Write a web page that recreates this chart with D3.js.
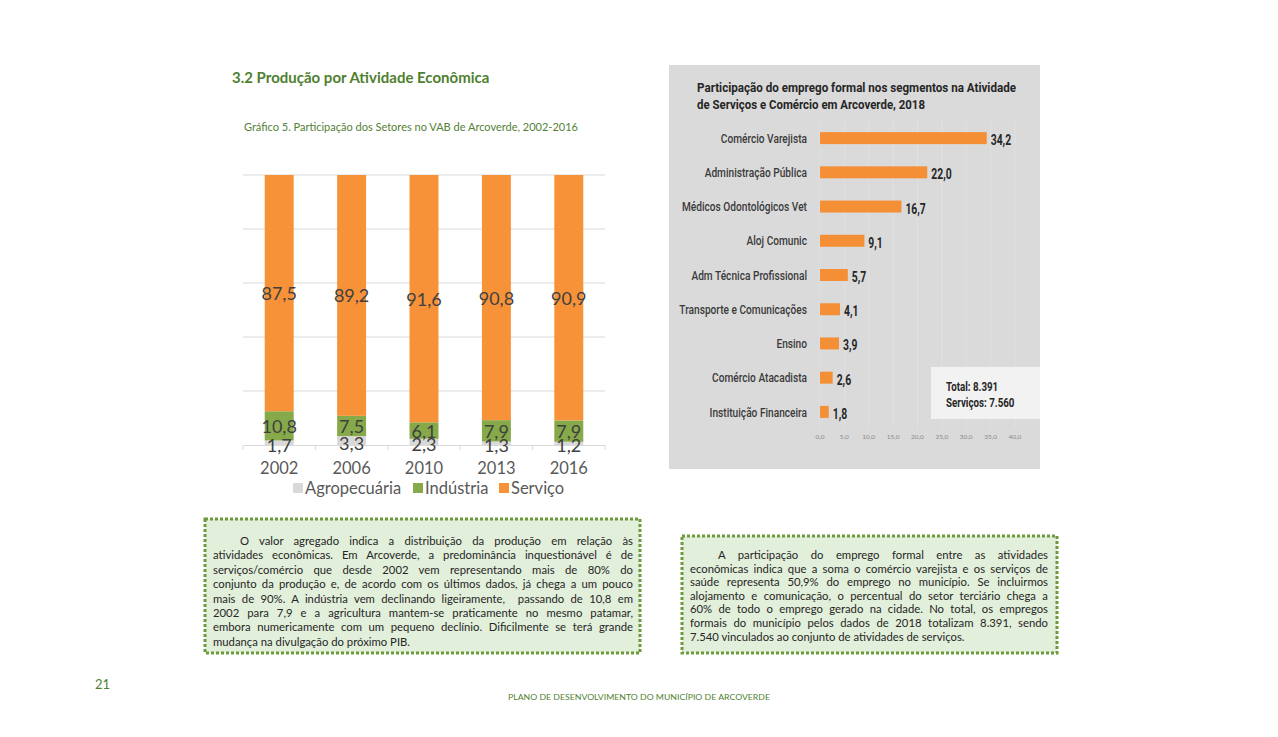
<!DOCTYPE html>
<html><head><meta charset="utf-8">
<script src="https://cdn.jsdelivr.net/npm/d3@7"></script>
<style>
body{margin:0;background:#fff;}
svg{display:block;}
</style></head>
<body>
<svg id="c" width="1278" height="737"></svg>
<script>
// ---- Data ----
const years = ["2002","2006","2010","2013","2016"];
const agro = [1.7,3.3,2.3,1.3,1.2];
const industria = [10.8,7.5,6.1,7.9,7.9];
const servico = [87.5,89.2,91.6,90.8,90.9];
const seriesNames = ["Agropecuária","Indústria","Serviço"];
const seriesColors = ["#d9d9d9","#86a94a","#f79239"];
const yTicks = [0,20,40,60,80,100];

const empCats = ["Comércio Varejista","Administração Pública","Médicos Odontológicos Vet","Aloj Comunic","Adm Técnica Profissional","Transporte e Comunicações","Ensino","Comércio Atacadista","Instituição Financeira"];
const empVals = [34.2,22.0,16.7,9.1,5.7,4.1,3.9,2.6,1.8];
const empTicks = [0,5,10,15,20,25,30,35,40];

const textLeft = [
 "O valor agregado indica a distribuição da produção em relação às",
 "atividades econômicas. Em Arcoverde, a predominância inquestionável é de",
 "serviços/comércio que desde 2002 vem representando mais de 80% do",
 "conjunto da produção e, de acordo com os últimos dados, já chega a um pouco",
 "mais de 90%. A indústria vem declinando ligeiramente,  passando de 10,8 em",
 "2002 para 7,9 e a agricultura mantem-se praticamente no mesmo patamar,",
 "embora numericamente com um pequeno declínio. Dificilmente se terá grande",
 "mudança na divulgação do próximo PIB."
];
const textRight = [
 "A participação do emprego formal entre as atividades",
 "econômicas indica que a soma o comércio varejista e os serviços de",
 "saúde representa 50,9% do emprego no município. Se incluirmos",
 "alojamento e comunicação, o percentual do setor terciário chega a",
 "60% de todo o emprego gerado na cidade. No total, os empregos",
 "formais do município pelos dados de 2018 totalizam 8.391, sendo",
 "7.540 vinculados ao conjunto de atividades de serviços."
];

const svg = d3.select("#c");
const fmt = v => d3.format(".1f")(v).replace(".", ",");
const green = "#538135";

// ---- Headings ----
svg.append("text").attr("x",232).attr("y",83).attr("font-family","Lato").attr("font-weight","bold")
  .attr("font-size",15).attr("fill","#4f7f2f").text("3.2 Produção por Atividade Econômica");
svg.append("text").attr("x",244).attr("y",131).attr("font-family","Lato")
  .attr("font-size",11).attr("fill",green).text("Gráfico 5. Participação dos Setores no VAB de Arcoverde, 2002-2016");

// ---- Left stacked chart ----
const x = d3.scaleBand().domain(years).range([243,605]).paddingInner(0.6).paddingOuter(0.3);
const y = d3.scaleLinear().domain([0,100]).range([445,175]);

const g = svg.append("g");
g.selectAll("line.grid").data(yTicks.slice(1)).join("line")
  .attr("x1",243).attr("x2",605).attr("y1",d=>y(d)).attr("y2",d=>y(d))
  .attr("stroke","#d9d9d9").attr("stroke-width",1);

const rows = years.map((yr,i)=>({year:yr, a:agro[i], b:industria[i], c:servico[i]}));
const stack = d3.stack().keys(["a","b","c"])(rows);
stack.forEach((layer,li)=>{
  g.selectAll(null).data(layer).join("rect")
    .attr("x",d=>x(d.data.year)).attr("width",x.bandwidth())
    .attr("y",d=>y(d[1])).attr("height",d=>y(d[0])-y(d[1]))
    .attr("fill",seriesColors[li]);
});
// axis
const xAxis = g.append("g").attr("transform","translate(0,445)")
  .call(d3.axisBottom(x).tickSize(0).tickPadding(17));
xAxis.select(".domain").attr("stroke","#d9d9d9");
xAxis.selectAll("text").attr("font-family","Lato").attr("font-size",16.5).attr("fill","#595959");
const bounds = d3.range(years.length+1).map(i=>243+i*x.step());
g.selectAll("line.tk").data(bounds).join("line")
  .attr("x1",d=>d).attr("x2",d=>d).attr("y1",445).attr("y2",450).attr("stroke","#d9d9d9");
// labels
stack.forEach((layer,li)=>{
  g.selectAll(null).data(layer).join("text")
    .attr("x",d=>x(d.data.year)+x.bandwidth()/2)
    .attr("y",d=>(y(d[0])+y(d[1]))/2 + (li===0?2:0))
    .attr("text-anchor","middle").attr("dominant-baseline","central")
    .attr("font-family","Lato").attr("font-size",18).attr("fill","#404040")
    .text(d=>fmt(d[1]-d[0]));
});
// legend
const legX = [293,413,499];
seriesNames.forEach((n,i)=>{
  g.append("rect").attr("x",legX[i]).attr("y",483).attr("width",10).attr("height",10).attr("fill",seriesColors[i]);
  g.append("text").attr("x",legX[i]+12).attr("y",488).attr("dominant-baseline","central")
   .attr("font-family","Lato").attr("font-size",16.5).attr("fill","#595959").text(n);
});

// ---- Right bar chart ----
const condense = (sel,k)=>sel.each(function(){
  const w=this.getComputedTextLength();
  d3.select(this).attr("textLength",w*k).attr("lengthAdjust","spacingAndGlyphs");
});
const r = svg.append("g");
r.append("rect").attr("x",669).attr("y",65).attr("width",371).attr("height",404).attr("fill","#dadada");
const xb = d3.scaleLinear().domain([0,40]).range([820,1015]);
const yb = d3.scaleBand().domain(empCats).range([121,429]).paddingInner(0.65).paddingOuter(0.325);

r.selectAll("line.vg").data(empTicks).join("line")
  .attr("x1",d=>xb(d)).attr("x2",d=>xb(d)).attr("y1",120).attr("y2",428)
  .attr("stroke","#e2e2e2").attr("stroke-width",0.8);

const tl = r.append("g").attr("font-family","Roboto").attr("font-weight","bold").attr("font-size",13).attr("fill","#262626");
tl.append("text").attr("x",697).attr("y",92).text("Participação do emprego formal nos segmentos na Atividade").attr("textLength",319).attr("lengthAdjust","spacingAndGlyphs");
tl.append("text").attr("x",697).attr("y",109).text("de Serviços e Comércio em Arcoverde, 2018").attr("textLength",228).attr("lengthAdjust","spacingAndGlyphs");

r.selectAll("rect.bar").data(empVals).join("rect")
  .attr("x",xb(0)).attr("y",(d,i)=>yb(empCats[i]))
  .attr("width",d=>xb(d)-xb(0)).attr("height",yb.bandwidth()).attr("fill","#f58f36");

r.selectAll("text.cat").data(empCats).join("text")
  .attr("x",807).attr("y",d=>yb(d)+yb.bandwidth()/2).attr("dy","0.36em")
  .attr("text-anchor","end").attr("font-family","Roboto").attr("font-weight",500)
  .attr("font-size",13).attr("fill","#3a3a3a").text(d=>d)
  .call(condense,0.78);

r.selectAll("text.val").data(empVals).join("text")
  .attr("x",d=>xb(d)+4).attr("y",(d,i)=>yb(empCats[i])+yb.bandwidth()/2+2).attr("dy","0.36em")
  .attr("font-family","Roboto").attr("font-weight","bold")
  .attr("font-size",14).attr("fill","#262626").text(d=>fmt(d))
  .call(condense,0.74);

r.selectAll("text.tick").data(empTicks).join("text")
  .attr("x",d=>xb(d)).attr("y",439).attr("text-anchor","middle")
  .attr("font-family","Lato").attr("font-size",6.5).attr("fill","#8a8a8a").text(d=>fmt(d));

r.append("rect").attr("x",931).attr("y",367).attr("width",109).attr("height",52).attr("fill","#f2f2f2");
const tot = r.append("g").attr("font-family","Roboto").attr("font-weight","bold").attr("font-size",12.5).attr("fill","#262626");
tot.append("text").attr("x",946).attr("y",391).text("Total: 8.391").call(condense,0.78);
tot.append("text").attr("x",946).attr("y",407).text("Serviços: 7.560").call(condense,0.78);

// ---- Text boxes ----
function textBox(lines,bx,by,bw,bh,x0,x1,indent,y0,lh){
  const b = svg.append("g");
  b.append("rect").attr("x",bx).attr("y",by).attr("width",bw).attr("height",bh)
    .attr("fill","#e2efda").attr("stroke","#6e9a3e").attr("stroke-width",3).attr("stroke-dasharray","3,2");
  lines.forEach((t,i)=>{
    const sx = i===0 ? indent : x0;
    const el = b.append("text").attr("x",sx).attr("y",y0+i*lh)
      .attr("font-family","Lato").attr("font-size",11.3).attr("fill","#262626")
      .attr("xml:space","preserve").text(t);
    if(i<lines.length-1){
      const w = el.node().getComputedTextLength();
      const spaces = (t.match(/ /g)||[]).length;
      if(spaces>0) el.style("word-spacing",((x1-sx-w)/spaces)+"px");
    }
  });
}
textBox(textLeft,205,519,435,134,213,633,240,545,14.4);
textBox(textRight,682,536,375,117,690,1048,718,559,13.6);

// ---- Footer ----
svg.append("text").attr("x",95).attr("y",689).attr("font-family","Lato").attr("font-size",13).attr("fill","#4f7f2f").text("21");
svg.append("text").attr("x",508).attr("y",700).attr("font-family","Lato").attr("font-size",7.5).attr("fill","#4f7f2f")
  .text("PLANO DE DESENVOLVIMENTO DO MUNICÍPIO DE ARCOVERDE").attr("textLength",262).attr("lengthAdjust","spacingAndGlyphs");
</script>
</body></html>
